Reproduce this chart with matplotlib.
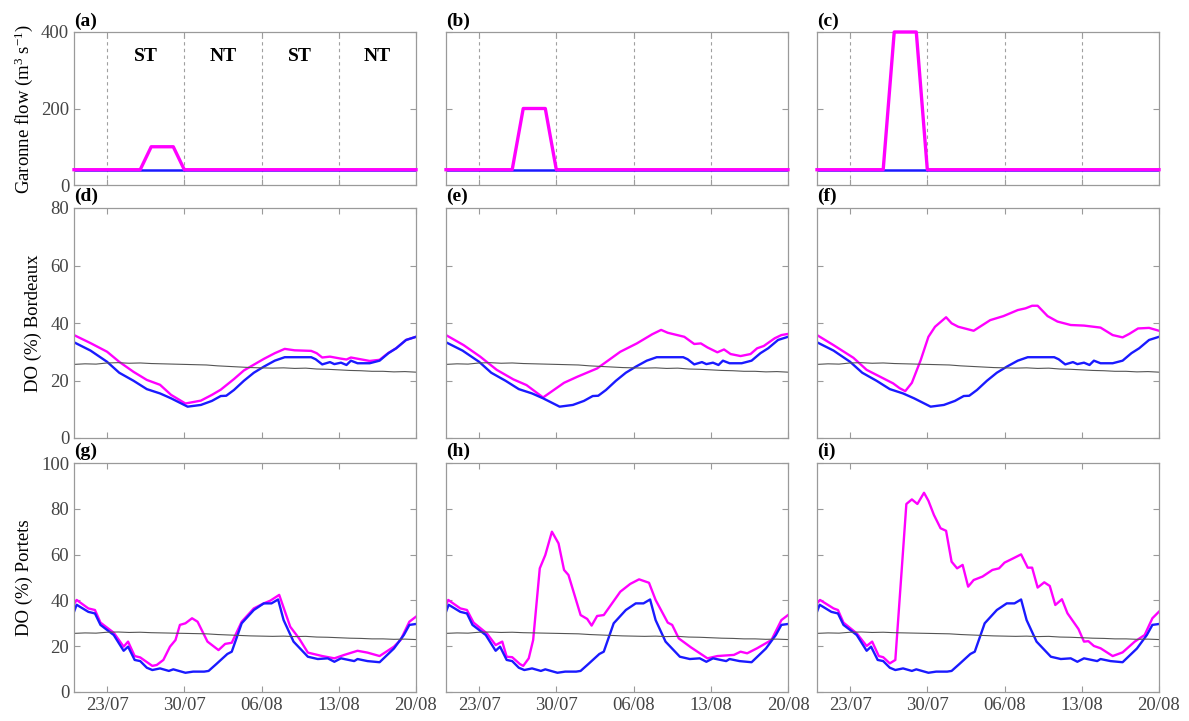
from datetime import datetime

import numpy as np
import matplotlib
matplotlib.use("Agg")
import matplotlib.pyplot as plt
import matplotlib.dates as mdates


START = datetime(2006, 7, 20)

# Garonne flow scenarios (days since 20/07)
flow_days = [0, 6, 7, 9, 10, 31]
flow_base = [40, 40, 40, 40, 40, 40]
flow_st100 = [40, 40, 100, 100, 40, 40]
flow_st200 = [40, 40, 200, 200, 40, 40]
flow_st400 = [40, 40, 400, 400, 40, 40]

# reference series (grey), same at both stations
ref_days = list(range(32))
ref_vals = [25.6, 25.8, 25.7, 26.1, 26.2, 26.0, 26.1, 25.9, 25.8, 25.7, 25.6,
            25.5, 25.4, 25.1, 24.9, 24.7, 24.5, 24.4, 24.3, 24.4, 24.2, 24.3,
            24.0, 23.9, 23.7, 23.5, 23.4, 23.2, 23.2, 23.0, 23.1, 22.9]

# DO Bordeaux, baseline run (blue)
bdx_base_days = [0, 1.5, 3, 4.1, 5.4, 6.6, 7.8, 8.8, 10.3, 11.5, 12.5, 13.3,
                 13.8, 14.5, 15.4, 16.3, 17.2, 18.2, 19.1, 21.5, 21.9, 22.5,
                 23.2, 23.6, 24.2, 24.7, 25.1, 25.7, 26.8, 27.7, 28.5, 29.2,
                 30.1, 31]
bdx_base = [33.3, 30.4, 26.5, 22.7, 19.9, 17.0, 15.5, 13.8, 10.9, 11.5, 12.9,
            14.6, 14.7, 16.7, 19.9, 22.7, 24.8, 26.9, 28.1, 28.1, 27.4, 25.6,
            26.4, 25.7, 26.2, 25.4, 26.9, 26.0, 26.0, 26.9, 29.5, 31.2, 34.1,
            35.2]

# DO Bordeaux, pulse runs (magenta)
bdx_st100_days = [0, 1.5, 3, 4.1, 5.4, 6.6, 7.8, 8.8, 10.1, 11.5, 12.5, 13.3,
                  14.5, 15.4, 16.3, 17.2, 18.2, 19.1, 20, 21.5, 22, 22.5,
                  23.2, 24.2, 24.7, 25.1, 26.8, 27.7, 28.5, 29.2, 30.1, 31]
bdx_st100 = [35.8, 33.0, 30.0, 26.5, 23.0, 20.2, 18.5, 15.0, 12.0, 13.0, 15.0,
             16.8, 20.5, 23.5, 25.5, 27.5, 29.5, 31.0, 30.5, 30.3, 29.5, 28.0,
             28.3, 27.6, 27.3, 28.0, 26.8, 27.2, 29.6, 31.2, 34.1, 35.2]

bdx_st200_days = [0, 1.6, 3.1, 4.6, 6.1, 7.3, 8.8, 10.7, 11.9, 13.7, 15.8,
                  17.3, 18.7, 19.5, 20.1, 21.6, 22.5, 23.1, 23.7, 24.6, 25.2,
                  25.8, 26.7, 27.6, 28.2, 28.8, 29.8, 30.4, 31]
bdx_st200 = [35.8, 32.3, 28.3, 23.7, 20.4, 18.4, 14.1, 19.2, 21.3, 24.2, 30.0,
             32.9, 36.1, 37.6, 36.6, 35.2, 32.7, 32.9, 31.5, 29.8, 30.8, 29.2,
             28.5, 29.2, 31.2, 32.0, 34.7, 35.8, 36.2]

bdx_st400_days = [0, 1.5, 3.3, 4.5, 6.9, 7.5, 8.0, 8.6, 9.4, 10.1, 10.7, 11.7,
                  12.2, 12.8, 14.2, 15.7, 16.9, 18.2, 18.9, 19.5, 20.0, 20.9,
                  21.8, 23.0, 24.2, 25.7, 26.8, 27.7, 28.3, 29.1, 30.1, 31]
bdx_st400 = [35.8, 32.3, 27.9, 23.7, 19.0, 17.3, 16.3, 19.2, 27.1, 35.2, 38.7,
             42.0, 39.9, 38.7, 37.3, 41.0, 42.4, 44.5, 45.1, 46.0, 46.0, 42.4,
             40.5, 39.3, 39.1, 38.4, 35.8, 35.0, 36.2, 38.1, 38.3, 37.3]

# DO Portets, baseline run (blue)
prt_base_days = [0, 0.24, 1.3, 1.9, 2.4, 3.6, 4.5, 4.9, 5.5, 6.0, 6.6, 7.1,
                 7.8, 8.6, 9.0, 10.1, 10.8, 11.8, 12.2, 12.9, 13.9, 14.3, 15.2,
                 16.3, 17.2, 17.9, 18.5, 19.0, 19.9, 21.2, 22.1, 23.0, 23.6,
                 24.2, 25.4, 25.7, 26.6, 27.7, 29.0, 29.9, 30.4, 31]
prt_base = [35.0, 38.1, 35.0, 34.3, 29.3, 24.9, 18.0, 19.8, 14.0, 13.5, 10.6,
            9.6, 10.3, 9.2, 9.9, 8.4, 8.9, 8.9, 9.2, 12.2, 16.6, 17.6, 30.0,
            35.8, 38.7, 38.7, 40.4, 31.4, 22.0, 15.4, 14.4, 14.7, 13.2, 14.7,
            13.5, 14.4, 13.5, 13.0, 19.0, 24.9, 29.3, 29.7]

# DO Portets, pulse runs (magenta)
prt_st100_days = [0, 0.24, 1.3, 1.9, 2.4, 3.6, 4.5, 4.9, 5.5, 6.0, 7.1, 7.5,
                  8.1, 8.7, 9.2, 9.6, 10.1, 10.7, 11.2, 12.1, 13.1, 13.7, 14.3,
                  15.2, 16.3, 17.2, 17.8, 18.6, 19.6, 20.4, 21.2, 22.5, 23.6,
                  24.5, 25.7, 26.6, 27.7, 29.0, 29.6, 30.4, 31]
prt_st100 = [38.4, 40.2, 36.5, 35.8, 30.3, 25.9, 19.8, 22.0, 15.7, 15.1, 11.4,
             11.8, 14.0, 19.8, 22.7, 29.3, 30.0, 32.2, 30.7, 22.0, 18.3, 21.0,
             21.5, 30.7, 36.5, 38.7, 39.9, 42.4, 28.5, 23.4, 17.2, 15.7, 14.7,
             16.2, 18.0, 17.2, 15.7, 19.8, 22.7, 30.7, 32.9]

prt_st200_days = [0, 0.2, 1.3, 1.9, 2.5, 3.7, 4.5, 5.1, 5.5, 6.0, 6.7, 7.0,
                  7.5, 7.9, 8.5, 9.0, 9.6, 10.2, 10.7, 11.1, 12.2, 12.8, 13.2,
                  13.7, 14.3, 15.8, 16.7, 17.5, 18.4, 19.0, 20.1, 20.5, 21.1,
                  22.2, 23.7, 24.6, 26.1, 26.7, 27.3, 28.2, 29.5, 30.4, 31]
prt_st200 = [38.0, 40.2, 36.5, 35.8, 30.3, 25.6, 20.5, 22.0, 15.4, 15.2, 12.2,
             11.4, 14.7, 22.7, 54.0, 59.8, 70.0, 64.9, 53.3, 51.1, 33.6, 31.9,
             29.0, 33.2, 33.6, 43.8, 47.2, 49.2, 47.7, 40.2, 30.3, 29.3, 23.4,
             19.5, 14.7, 15.7, 16.2, 17.6, 16.9, 19.1, 22.7, 31.4, 33.6]

prt_st400_days = [0, 0.27, 1.5, 1.9, 2.4, 3.6, 4.5, 5.0, 5.6, 6.0, 6.6, 7.1,
                  8.1, 8.6, 9.1, 9.7, 10.1, 10.6, 11.2, 11.7, 12.2, 12.7, 13.2,
                  13.7, 14.2, 15.0, 15.9, 16.5, 17.0, 17.8, 18.5, 19.1, 19.5,
                  20.0, 20.6, 21.1, 21.6, 22.2, 22.7, 23.7, 24.2, 24.6, 25.1,
                  25.7, 26.8, 27.7, 28.8, 29.7, 30.4, 31]
prt_st400 = [38.7, 40.2, 36.5, 35.8, 30.3, 25.6, 20.1, 22.0, 15.7, 15.2, 12.5,
             14.0, 82.1, 84.1, 82.1, 87.0, 83.5, 77.3, 71.5, 70.4, 56.9, 54.0,
             55.5, 46.0, 48.9, 50.4, 53.3, 54.0, 56.5, 58.4, 60.1, 54.3, 54.3,
             45.6, 47.9, 46.3, 38.0, 40.5, 34.4, 27.5, 22.0, 22.2, 20.1, 19.1,
             15.7, 17.3, 22.0, 24.9, 32.2, 35.1]

panel_labels = ["(a)", "(b)", "(c)", "(d)", "(e)", "(f)", "(g)", "(h)", "(i)"]
tide_labels = ["ST", "NT", "ST", "NT"]
tide_label_days = [6.5, 13.5, 20.5, 27.5]
week_days = [3, 10, 17, 24, 31]

MAGENTA = "#ff00ff"
BLUE = "#1a1aff"
GREY = "#555555"
SPINE = "#9a9a9a"
TICKTXT = "#444444"


def to_dates(days):
    return mdates.date2num(START) + np.asarray(days, dtype=float)


def style_axis(ax, ylim, yticks, show_y, show_x):
    ax.set_xlim(to_dates(0), to_dates(31))
    ax.set_ylim(*ylim)
    ax.set_yticks(yticks)
    ax.set_xticks(to_dates(week_days))
    ax.xaxis.set_major_formatter(mdates.DateFormatter("%d/%m"))
    ax.tick_params(direction="in", top=True, right=True, length=4,
                   color=SPINE, labelcolor=TICKTXT, labelsize=13.5, width=0.8)
    if not show_y:
        ax.tick_params(labelleft=False)
    if not show_x:
        ax.tick_params(labelbottom=False)
    for s in ax.spines.values():
        s.set_color(SPINE)
        s.set_linewidth(0.9)


plt.rcParams["font.family"] = ["Liberation Serif", "DejaVu Serif"]
plt.rcParams["mathtext.fontset"] = "custom"
plt.rcParams["mathtext.rm"] = "Liberation Serif"
plt.rcParams["mathtext.it"] = "Liberation Serif:italic"
plt.rcParams["axes.unicode_minus"] = False

fig = plt.figure(figsize=(11.89, 7.21), dpi=100)
W, H = 1189.0, 721.0
col_left = [74, 446, 817]
col_w = 342
rows = [(32, 185), (208, 438), (463, 692)]

axes = []
for r, (top, bot) in enumerate(rows):
    for c in range(3):
        rect = [col_left[c] / W, (H - bot) / H, col_w / W, (bot - top) / H]
        axes.append(fig.add_axes(rect))

flows = [flow_st100, flow_st200, flow_st400]
bdx = [(bdx_st100_days, bdx_st100), (bdx_st200_days, bdx_st200),
       (bdx_st400_days, bdx_st400)]
prt = [(prt_st100_days, prt_st100), (prt_st200_days, prt_st200),
       (prt_st400_days, prt_st400)]

for c in range(3):
    # flow row
    ax = axes[c]
    for d in week_days[:-1]:
        ax.axvline(to_dates(d), color="#a0a0a0", lw=0.8, ls=(0, (3, 3)))
    ax.plot(to_dates(flow_days), flow_base, color=BLUE, lw=1.8)
    ax.plot(to_dates(flow_days), flows[c], color=MAGENTA, lw=2.4,
            clip_on=False, zorder=5)
    style_axis(ax, (0, 400), [0, 200, 400], c == 0, False)

    # Bordeaux row
    ax = axes[3 + c]
    ax.plot(to_dates(bdx[c][0]), bdx[c][1], color=MAGENTA, lw=1.7)
    ax.plot(to_dates(bdx_base_days), bdx_base, color=BLUE, lw=1.7)
    ax.plot(to_dates(ref_days), ref_vals, color=GREY, lw=0.8)
    style_axis(ax, (0, 80), [0, 20, 40, 60, 80], c == 0, False)

    # Portets row
    ax = axes[6 + c]
    ax.plot(to_dates(prt[c][0]), prt[c][1], color=MAGENTA, lw=1.7)
    ax.plot(to_dates(prt_base_days), prt_base, color=BLUE, lw=1.7)
    ax.plot(to_dates(ref_days), ref_vals, color=GREY, lw=0.8)
    style_axis(ax, (0, 100), [0, 20, 40, 60, 80, 100], c == 0, True)

for ax, lab in zip(axes, panel_labels):
    ax.text(0.0, 1.012, lab, transform=ax.transAxes, ha="left", va="bottom",
            fontsize=14, fontweight="bold")

for lab, d in zip(tide_labels, tide_label_days):
    axes[0].text(to_dates(d), 335, lab, ha="center", va="center",
                 fontsize=14, fontweight="bold")

axes[0].set_ylabel("Garonne flow (m$^3$ s$^{-1}$)", fontsize=13.5, labelpad=4)
axes[3].set_ylabel("DO (%) Bordeaux", fontsize=13.5, labelpad=6)
axes[6].set_ylabel("DO (%) Portets", fontsize=13.5, labelpad=6)

fig.savefig("out.png", dpi=100)
